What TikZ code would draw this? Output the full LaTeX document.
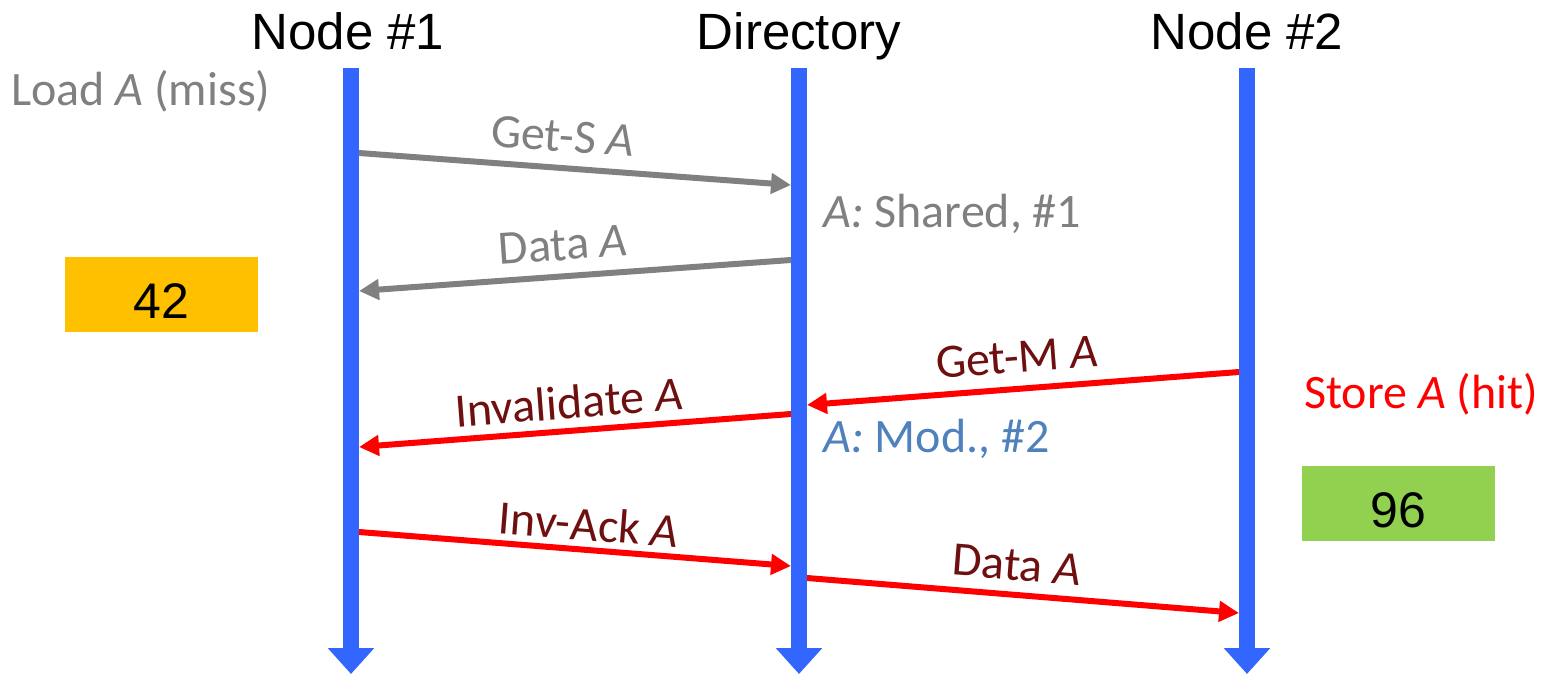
\documentclass[tikz,border=0pt]{standalone}
\usepackage{fontspec}
\setmainfont{Carlito}
\newfontfamily\hv{Liberation Sans}
\usetikzlibrary{arrows.meta}
\definecolor{lifeblue}{RGB}{51,102,255}
\definecolor{msggray}{RGB}{128,128,128}
\definecolor{msgred}{RGB}{255,0,0}
\definecolor{lbldark}{RGB}{110,16,16}
\definecolor{modblue}{RGB}{79,129,189}
\definecolor{boxorange}{RGB}{255,192,0}
\definecolor{boxgreen}{RGB}{146,208,80}
\tikzset{
  lifeline/.style={draw=lifeblue, line width=16pt, -{Triangle[length=26pt,width=45pt]}},
  title/.style={anchor=base, inner sep=0pt, font=\hv\fontsize{51}{60}\selectfont},
  cal/.style={inner sep=0pt, font=\fontsize{48}{56}\selectfont},
  graymsg/.style={draw=msggray, line width=6pt, -{Triangle[length=20pt,width=20pt]}},
  redmsg/.style={draw=msgred, line width=6pt, -{Triangle[length=20pt,width=20pt]}},
  graylbl/.style={cal, text=msggray},
  redlbl/.style={cal, text=lbldark},
  valbox/.style={minimum width=193pt, minimum height=75pt, inner sep=0pt},
  valtext/.style={anchor=base, inner sep=0pt, font=\hv\fontsize{50}{60}\selectfont}
}
\begin{document}
\begin{tikzpicture}[x=1pt,y=-1pt]
\useasboundingbox (0,0) rectangle (1548,674);
% lifelines
\coordinate (n1top) at (351,68);
\coordinate (n1bot) at (351,674);
\coordinate (dtop) at (799,68);
\coordinate (dbot) at (799,674);
\coordinate (n2top) at (1247,68);
\coordinate (n2bot) at (1247,674);
\draw[lifeline] (n1top) -- (n1bot);
\draw[lifeline] (dtop) -- (dbot);
\draw[lifeline] (n2top) -- (n2bot);
% titles
\node[title] (t1) at (348,50) {Node \#1};
\node[title] (t2) at (799,50) {Directory};
\node[title] (t3) at (1247,50) {Node \#2};
% side notes
\node[graylbl, anchor=base west] (load) at (11,106) {Load \textit{A} (miss)};
\node[graylbl, anchor=base west] (shared) at (823,227) {\textit{A:} Shared, \#1};
\node[cal, text=modblue, anchor=base west] (mod) at (823,452) {\textit{A:} Mod., \#2};
\node[cal, text=msgred, anchor=base west] (store) at (1304,408) {Store \textit{A} (hit)};
% value boxes
\node[valbox, fill=boxorange] (v42) at (161.5,294.5) {};
\node[valtext] (v42t) at (161.5,318) {42};
\node[valbox, fill=boxgreen] (v96) at (1398.5,503.5) {};
\node[valtext] (v96t) at (1398.5,527) {96};
% message endpoints
\coordinate (a1s) at (359,153);
\coordinate (a1e) at (791,185);
\coordinate (a2s) at (791,260);
\coordinate (a2e) at (359,291);
\coordinate (a3s) at (1239,372);
\coordinate (a3e) at (807,405);
\coordinate (a4s) at (791,414);
\coordinate (a4e) at (359,447);
\coordinate (a5s) at (359,532);
\coordinate (a5e) at (791,566);
\coordinate (a6s) at (807,578);
\coordinate (a6e) at (1239,613);
\draw[graymsg] (a1s) -- (a1e);
\draw[graymsg] (a2s) -- (a2e);
\draw[redmsg] (a3s) -- (a3e);
\draw[redmsg] (a4s) -- (a4e);
\draw[redmsg] (a5s) -- (a5e);
\draw[redmsg] (a6s) -- (a6e);
% message labels
\node[graylbl, rotate=-4.2] (l1) at (563,136) {Get-S \textit{A}};
\node[graylbl, rotate=4.1] (l2) at (563,245) {Data \textit{A}};
\node[redlbl, rotate=4.4] (l3) at (1017,357) {Get-M \textit{A}};
\node[redlbl, rotate=4.4] (l4) at (569,402) {Invalidate \textit{A}};
\node[redlbl, rotate=-4.5] (l5) at (589,524) {Inv-Ack \textit{A}};
\node[redlbl, rotate=-4.6] (l6) at (1017,565) {Data \textit{A}};
\end{tikzpicture}
\end{document}
